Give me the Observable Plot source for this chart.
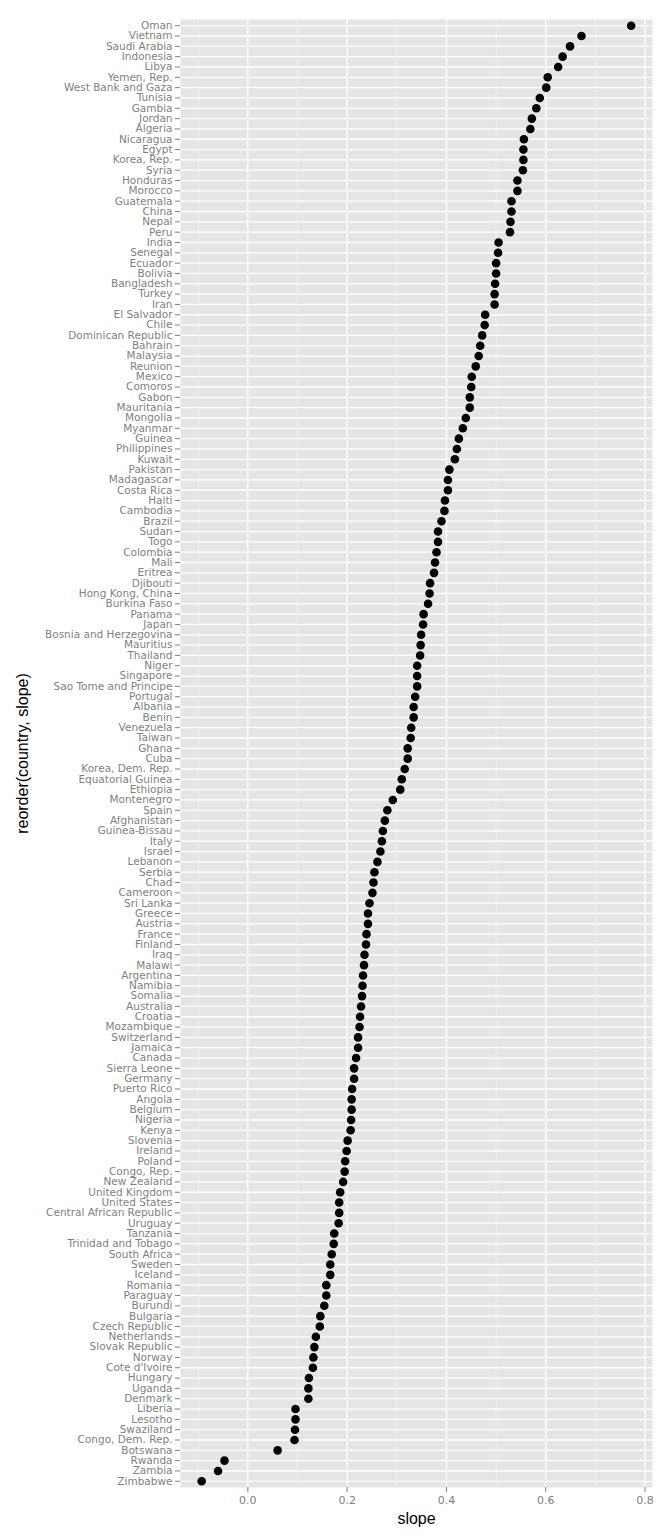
<!DOCTYPE html>
<html>
<head>
<meta charset="utf-8">
<script src="https://cdn.jsdelivr.net/npm/d3@7"></script>
<script src="https://cdn.jsdelivr.net/npm/@observablehq/plot@0.6"></script>
<style>
  html, body { margin: 0; padding: 0; background: white; }
  #chart svg { display: block; }
</style>
</head>
<body>
<div id="chart"></div>
<script>
const countries = [
  "Oman","Vietnam","Saudi Arabia","Indonesia","Libya","Yemen, Rep.","West Bank and Gaza","Tunisia","Gambia","Jordan",
  "Algeria","Nicaragua","Egypt","Korea, Rep.","Syria","Honduras","Morocco","Guatemala","China","Nepal",
  "Peru","India","Senegal","Ecuador","Bolivia","Bangladesh","Turkey","Iran","El Salvador","Chile",
  "Dominican Republic","Bahrain","Malaysia","Reunion","Mexico","Comoros","Gabon","Mauritania","Mongolia","Myanmar",
  "Guinea","Philippines","Kuwait","Pakistan","Madagascar","Costa Rica","Haiti","Cambodia","Brazil","Sudan",
  "Togo","Colombia","Mali","Eritrea","Djibouti","Hong Kong, China","Burkina Faso","Panama","Japan","Bosnia and Herzegovina",
  "Mauritius","Thailand","Niger","Singapore","Sao Tome and Principe","Portugal","Albania","Benin","Venezuela","Taiwan",
  "Ghana","Cuba","Korea, Dem. Rep.","Equatorial Guinea","Ethiopia","Montenegro","Spain","Afghanistan","Guinea-Bissau","Italy",
  "Israel","Lebanon","Serbia","Chad","Cameroon","Sri Lanka","Greece","Austria","France","Finland",
  "Iraq","Malawi","Argentina","Namibia","Somalia","Australia","Croatia","Mozambique","Switzerland","Jamaica",
  "Canada","Sierra Leone","Germany","Puerto Rico","Angola","Belgium","Nigeria","Kenya","Slovenia","Ireland",
  "Poland","Congo, Rep.","New Zealand","United Kingdom","United States","Central African Republic","Uruguay","Tanzania","Trinidad and Tobago","South Africa",
  "Sweden","Iceland","Romania","Paraguay","Burundi","Bulgaria","Czech Republic","Netherlands","Slovak Republic","Norway",
  "Cote d'Ivoire","Hungary","Uganda","Denmark","Liberia","Lesotho","Swaziland","Congo, Dem. Rep.","Botswana","Rwanda",
  "Zambia","Zimbabwe"
];
const slopes = [
  0.772,0.672,0.649,0.634,0.625,0.604,0.601,0.588,0.581,0.572,
  0.569,0.556,0.555,0.555,0.554,0.543,0.543,0.531,0.531,0.529,
  0.528,0.505,0.504,0.500,0.500,0.498,0.497,0.497,0.478,0.477,
  0.472,0.468,0.465,0.459,0.451,0.450,0.447,0.447,0.439,0.433,
  0.425,0.421,0.417,0.406,0.403,0.403,0.397,0.396,0.390,0.383,
  0.383,0.380,0.377,0.375,0.367,0.366,0.363,0.354,0.353,0.349,
  0.348,0.347,0.341,0.341,0.341,0.337,0.334,0.334,0.329,0.328,
  0.322,0.322,0.316,0.310,0.307,0.292,0.281,0.276,0.272,0.270,
  0.267,0.261,0.255,0.253,0.251,0.245,0.242,0.242,0.239,0.238,
  0.235,0.234,0.232,0.231,0.230,0.228,0.226,0.225,0.222,0.222,
  0.218,0.214,0.214,0.210,0.209,0.209,0.208,0.207,0.201,0.199,
  0.196,0.195,0.192,0.186,0.184,0.184,0.183,0.174,0.173,0.169,
  0.166,0.166,0.158,0.158,0.154,0.146,0.145,0.137,0.134,0.132,
  0.131,0.123,0.122,0.122,0.096,0.096,0.095,0.094,0.060,-0.047,
  -0.060,-0.093
];
const xTicks = [0, 0.2, 0.4, 0.6, 0.8];
const xMinorTicks = [-0.1, 0.1, 0.3, 0.5, 0.7];
const xTitle = "slope";
const yTitle = "reorder(country, slope)";

const data = countries.map((c, i) => ({country: c, slope: slopes[i]}));

const tickFont = "'DejaVu Sans', Verdana, sans-serif";

const chart = Plot.plot({
  width: 672,
  height: 1536,
  marginLeft: 180,
  marginRight: 20,
  marginTop: 19,
  marginBottom: 49,
  style: {fontFamily: "'Liberation Sans', Arial, Helvetica, sans-serif", background: "white"},
  x: {domain: [-0.1356, 0.815], label: null},
  y: {type: "point", domain: countries, padding: 0.6, label: null},
  marks: [
    Plot.frame({fill: "#e5e5e5", stroke: null}),
    Plot.ruleX(xMinorTicks, {stroke: "#f2f2f2", strokeWidth: 0.8}),
    Plot.gridX(xTicks, {stroke: "white", strokeOpacity: 1, strokeWidth: 1.3}),
    Plot.gridY({stroke: "white", strokeOpacity: 1, strokeWidth: 1.3}),
    Plot.dot(data, {x: "slope", y: "country", r: 4.3, fill: "black", stroke: null}),
    Plot.axisX(xTicks, {tickFormat: d3.format(".1f"), fontSize: 11, fontFamily: tickFont, color: "#7f7f7f", tickSize: 5, tickPadding: 4, label: null}),
    Plot.axisY({fontSize: 10.5, fontFamily: tickFont, color: "#7f7f7f", tickSize: 5, tickPadding: 3, label: null}),
    Plot.text([xTitle], {frameAnchor: "bottom", dy: 31, lineAnchor: "middle", fontSize: 16, fill: "black", text: d => d}),
    Plot.text([yTitle], {frameAnchor: "left", dx: -158, rotate: -90, textAnchor: "middle", fontSize: 16, fill: "black", text: d => d})
  ]
});
document.getElementById("chart").appendChild(chart);
</script>
</body>
</html>
